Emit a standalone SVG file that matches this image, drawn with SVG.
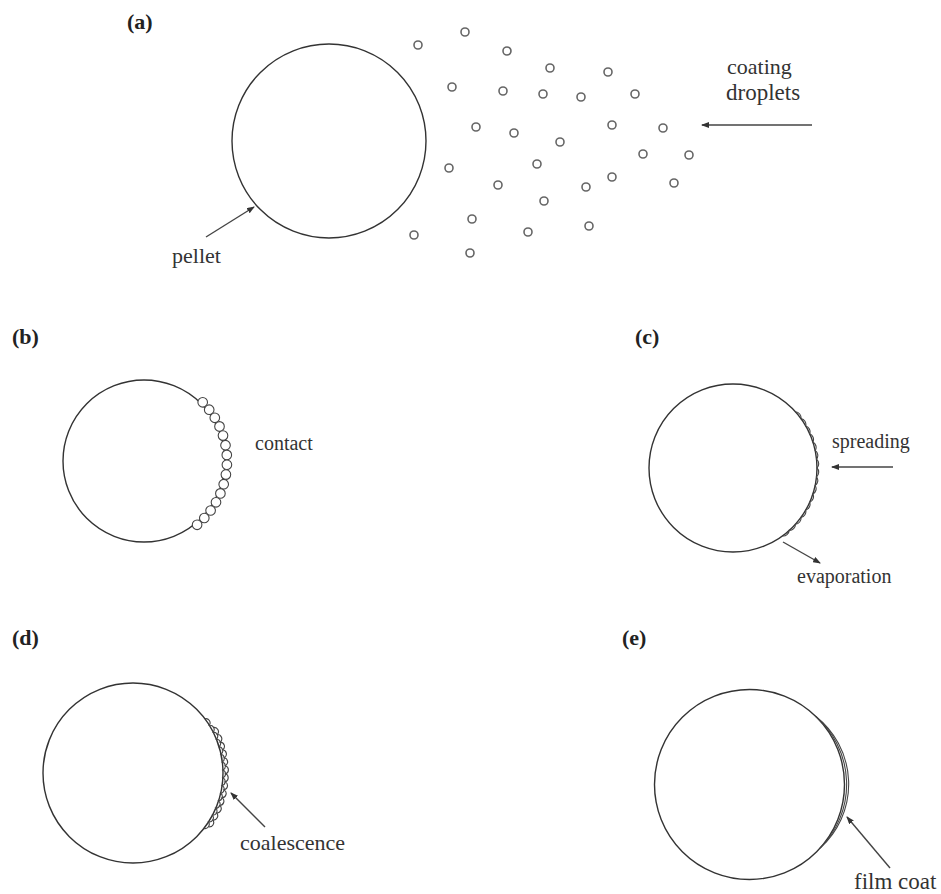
<svg xmlns="http://www.w3.org/2000/svg" width="941" height="894" viewBox="0 0 941 894">
<style>
.pel{fill:none;stroke:#333;stroke-width:1.4}
.drop{fill:none;stroke:#666;stroke-width:1.6}
.cd{fill:#fff;stroke:#444;stroke-width:1.1}
.lay{fill:none;stroke:#444;stroke-width:1.1}
.arr{stroke:#444;stroke-width:1.4;fill:none;marker-end:url(#ah)}
.t{font-family:"Liberation Serif","Times New Roman",serif;fill:#333}
.lb{font-family:"Liberation Serif","Times New Roman",serif;font-weight:bold;font-size:22px;fill:#222}
</style>
<defs>
<marker id="ah" markerWidth="8" markerHeight="6" refX="7" refY="3" orient="auto" markerUnits="userSpaceOnUse">
<path d="M0,0 L8,3 L0,6 z" fill="#333"/>
</marker>
</defs>
<rect width="941" height="894" fill="#fff"/>

<g id="panel-a">
<text class="lb" x="127" y="29">(a)</text>
<g id="pellet-a"><circle class="pel" cx="329" cy="141" r="97"/></g>
<g id="droplets-a">
<circle class="drop" cx="418" cy="45" r="4"/>
<circle class="drop" cx="465" cy="32" r="4"/>
<circle class="drop" cx="507" cy="51" r="4"/>
<circle class="drop" cx="550" cy="68" r="4"/>
<circle class="drop" cx="608" cy="72" r="4"/>
<circle class="drop" cx="452" cy="87" r="4"/>
<circle class="drop" cx="503" cy="91" r="4"/>
<circle class="drop" cx="543" cy="94" r="4"/>
<circle class="drop" cx="581" cy="97" r="4"/>
<circle class="drop" cx="635" cy="94" r="4"/>
<circle class="drop" cx="476" cy="127" r="4"/>
<circle class="drop" cx="514" cy="133" r="4"/>
<circle class="drop" cx="560" cy="142" r="4"/>
<circle class="drop" cx="612" cy="125" r="4"/>
<circle class="drop" cx="663" cy="128" r="4"/>
<circle class="drop" cx="643" cy="154" r="4"/>
<circle class="drop" cx="689" cy="155" r="4"/>
<circle class="drop" cx="449" cy="168" r="4"/>
<circle class="drop" cx="537" cy="164" r="4"/>
<circle class="drop" cx="498" cy="185" r="4"/>
<circle class="drop" cx="586" cy="187" r="4"/>
<circle class="drop" cx="612" cy="177" r="4"/>
<circle class="drop" cx="674" cy="183" r="4"/>
<circle class="drop" cx="544" cy="201" r="4"/>
<circle class="drop" cx="472" cy="219" r="4"/>
<circle class="drop" cx="414" cy="235" r="4"/>
<circle class="drop" cx="528" cy="232" r="4"/>
<circle class="drop" cx="589" cy="226" r="4"/>
<circle class="drop" cx="470" cy="253" r="4"/>
</g>
<text class="t" x="172" y="263" font-size="22">pellet</text>
<text class="t" x="727" y="74" font-size="22">coating</text>
<text class="t" x="726" y="100" font-size="23">droplets</text>
</g>

<g id="panel-b">
<text class="lb" x="12" y="344">(b)</text>
<g id="pellet-b"><circle class="pel" cx="144" cy="461" r="81"/></g>
<g id="droplets-b">
<circle class="cd" cx="202.7" cy="402.3" r="4.8"/>
<circle class="cd" cx="209.2" cy="409.7" r="4.8"/>
<circle class="cd" cx="214.8" cy="417.8" r="4.8"/>
<circle class="cd" cx="219.5" cy="426.4" r="4.8"/>
<circle class="cd" cx="223.0" cy="435.6" r="4.8"/>
<circle class="cd" cx="225.5" cy="445.2" r="4.8"/>
<circle class="cd" cx="226.8" cy="454.9" r="4.8"/>
<circle class="cd" cx="226.9" cy="464.8" r="4.8"/>
<circle class="cd" cx="225.9" cy="474.6" r="4.8"/>
<circle class="cd" cx="223.7" cy="484.2" r="4.8"/>
<circle class="cd" cx="220.4" cy="493.4" r="4.8"/>
<circle class="cd" cx="216.0" cy="502.3" r="4.8"/>
<circle class="cd" cx="210.6" cy="510.5" r="4.8"/>
<circle class="cd" cx="204.3" cy="518.0" r="4.8"/>
<circle class="cd" cx="197.1" cy="524.8" r="4.8"/>
</g>
<text class="t" x="255" y="450" font-size="20">contact</text>
</g>

<g id="panel-c">
<text class="lb" x="635" y="344">(c)</text>
<g id="pellet-c"><circle class="pel" cx="733" cy="468" r="84"/></g>
<path id="spread-layer" class="lay" d="M795.4,411.8 A6,6 0 0 1 801.0,418.6 A6,6 0 0 1 805.7,426.0 A6,6 0 0 1 809.7,433.8 A6,6 0 0 1 812.9,442.0 A6,6 0 0 1 815.2,450.5 A6,6 0 0 1 816.5,459.2 A6,6 0 0 1 817,468 A6,6 0 0 1 816.5,476.8 A6,6 0 0 1 815.2,485.5 A6,6 0 0 1 812.9,494.0 A6,6 0 0 1 809.7,502.2 A6,6 0 0 1 805.7,510.0 A6,6 0 0 1 801.0,517.4 A6,6 0 0 1 795.4,524.2 A6,6 0 0 1 789.2,530.4 A6,6 0 0 1 782.4,536.0"/>
<text class="t" x="832" y="448" font-size="20">spreading</text>
<text class="t" x="797" y="583" font-size="20">evaporation</text>
</g>

<g id="panel-d">
<text class="lb" x="12" y="645">(d)</text>
<g id="pellet-d"><circle class="pel" cx="133" cy="773" r="90"/></g>
<g id="coalesce-layer">
<path class="lay" d="M204.9,718.8 A4.2,4.2 0 0 1 209.3,725.3 A4.2,4.2 0 0 1 213.2,732.1 A4.2,4.2 0 0 1 216.4,739.3 A4.2,4.2 0 0 1 219.1,746.7 A4.2,4.2 0 0 1 221.0,754.3 A4.2,4.2 0 0 1 222.3,762.0 A4.2,4.2 0 0 1 222.9,769.9 A4.2,4.2 0 0 1 222.9,777.7 A4.2,4.2 0 0 1 222.1,785.5 A4.2,4.2 0 0 1 220.7,793.3 A4.2,4.2 0 0 1 218.6,800.8 A4.2,4.2 0 0 1 215.8,808.2 A4.2,4.2 0 0 1 212.5,815.3 A4.2,4.2 0 0 1 208.5,822.0 A4.2,4.2 0 0 1 203.9,828.4"/>
<path class="lay" transform="translate(133 773) rotate(2.5) scale(1.03) translate(-133 -773)" d="M209.3,725.3 A4.2,4.2 0 0 1 213.2,732.1 A4.2,4.2 0 0 1 216.4,739.3 A4.2,4.2 0 0 1 219.1,746.7 A4.2,4.2 0 0 1 221.0,754.3 A4.2,4.2 0 0 1 222.3,762.0 A4.2,4.2 0 0 1 222.9,769.9 A4.2,4.2 0 0 1 222.9,777.7 A4.2,4.2 0 0 1 222.1,785.5 A4.2,4.2 0 0 1 220.7,793.3 A4.2,4.2 0 0 1 218.6,800.8 A4.2,4.2 0 0 1 215.8,808.2 A4.2,4.2 0 0 1 212.5,815.3 A4.2,4.2 0 0 1 208.5,822.0"/>
</g>
<text class="t" x="240" y="850" font-size="22">coalescence</text>
</g>

<g id="panel-e">
<text class="lb" x="622" y="645">(e)</text>
<g id="pellet-e"><circle class="pel" cx="749.5" cy="784.5" r="95"/></g>
<g id="film-coat">
<path class="lay" d="M815.5,716.2 A86,86 0 0 1 820.1,848.1"/>
<path class="lay" d="M815.5,716.2 A90,90 0 0 1 820.1,848.1"/>
</g>
<text class="t" x="854" y="889" font-size="23">film coat</text>
</g>

<g id="connectors">
<line class="arr" x1="206" y1="237" x2="254" y2="207"/>
<line class="arr" x1="812" y1="125" x2="702" y2="125"/>
<line class="arr" x1="893" y1="467" x2="832" y2="467"/>
<line class="arr" x1="783" y1="542" x2="820" y2="563"/>
<line class="arr" x1="265" y1="827" x2="231" y2="793"/>
<line class="arr" x1="890" y1="868" x2="847" y2="817"/>
</g>
</svg>
